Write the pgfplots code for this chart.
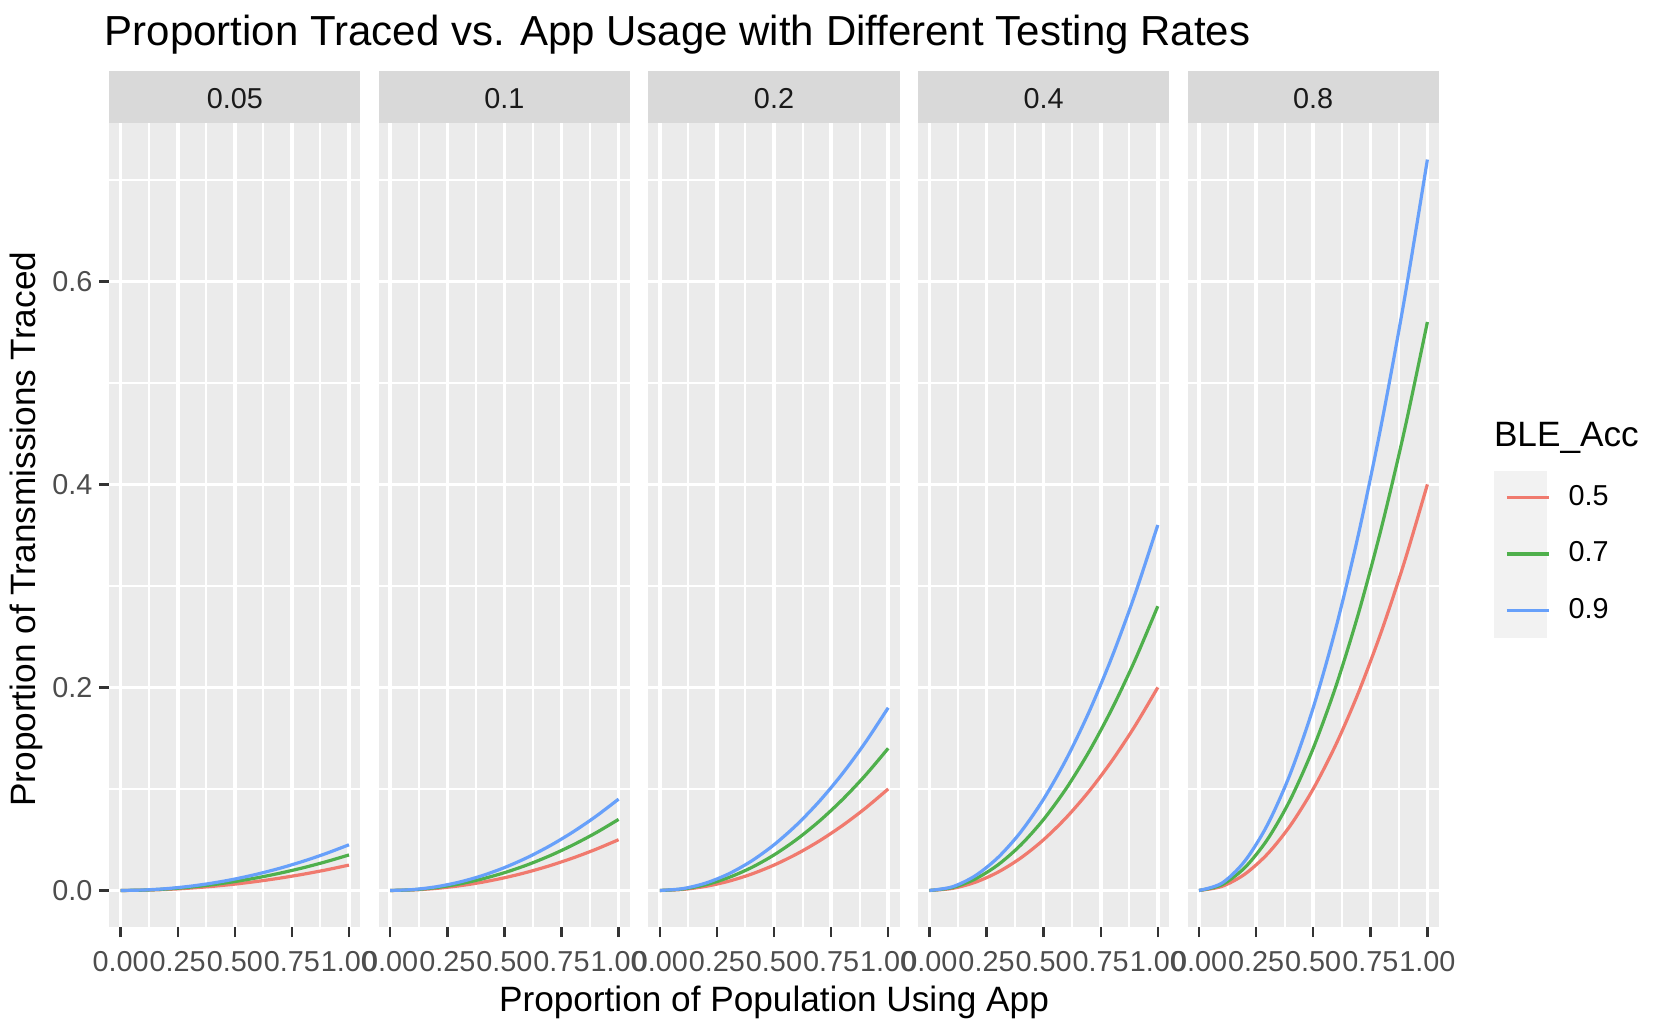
\documentclass[border=0pt]{standalone}
\usepackage{pgfplots}
\pgfplotsset{compat=1.18}
\usepackage{pgfplotstable}
\usepackage{fontspec}
\setmainfont{Liberation Sans}
\definecolor{panelbg}{HTML}{EBEBEB}
\definecolor{stripc}{HTML}{D9D9D9}
\definecolor{tickc}{HTML}{333333}
\definecolor{labc}{HTML}{4D4D4D}
\definecolor{striptext}{HTML}{1A1A1A}
\definecolor{keybg}{HTML}{F2F2F2}
\definecolor{cred}{HTML}{F07A6E}
\definecolor{cgreen}{HTML}{4FB04C}
\definecolor{cblue}{HTML}{67A0FA}

% columns: x, then for testing rate t and BLE accuracy 0.5/0.7/0.9
\pgfplotstableread{
x    a1      a2      a3      b1     b2     b3     c1     c2     c3     d1     d2     d3     e1     e2     e3
0.0  0       0       0       0      0      0      0      0      0      0      0      0      0      0      0
0.1  0.00025 0.00035 0.00045 0.0005 0.0007 0.0009 0.001  0.0014 0.0018 0.002  0.0028 0.0036 0.004  0.0056 0.0072
0.2  0.001   0.0014  0.0018  0.002  0.0028 0.0036 0.004  0.0056 0.0072 0.008  0.0112 0.0144 0.016  0.0224 0.0288
0.3  0.00225 0.00315 0.00405 0.0045 0.0063 0.0081 0.009  0.0126 0.0162 0.018  0.0252 0.0324 0.036  0.0504 0.0648
0.4  0.004   0.0056  0.0072  0.008  0.0112 0.0144 0.016  0.0224 0.0288 0.032  0.0448 0.0576 0.064  0.0896 0.1152
0.5  0.00625 0.00875 0.01125 0.0125 0.0175 0.0225 0.025  0.035  0.045  0.05   0.07   0.09   0.1    0.14   0.18
0.6  0.009   0.0126  0.0162  0.018  0.0252 0.0324 0.036  0.0504 0.0648 0.072  0.1008 0.1296 0.144  0.2016 0.2592
0.7  0.01225 0.01715 0.02205 0.0245 0.0343 0.0441 0.049  0.0686 0.0882 0.098  0.1372 0.1764 0.196  0.2744 0.3528
0.8  0.016   0.0224  0.0288  0.032  0.0448 0.0576 0.064  0.0896 0.1152 0.128  0.1792 0.2304 0.256  0.3584 0.4608
0.9  0.02025 0.02835 0.03645 0.0405 0.0567 0.0729 0.081  0.1134 0.1458 0.162  0.2268 0.2916 0.324  0.4536 0.5832
1.0  0.025   0.035   0.045   0.05   0.07   0.09   0.1    0.14   0.18   0.2    0.28   0.36   0.4    0.56   0.72
}\datatable

\pgfplotsset{
  facet/.style={
    scale only axis, width=62.8pt, height=201pt, anchor=south west,
    xmin=-0.05, xmax=1.05, ymin=-0.036, ymax=0.756,
    axis background/.style={fill=panelbg},
    axis line style={draw=none},
    xtick={0,0.25,0.5,0.75,1}, minor xtick={0.125,0.375,0.625,0.875},
    xticklabels={0.00,0.25,0.50,0.75,1.00},
    ytick={0,0.2,0.4,0.6}, minor ytick={0.1,0.3,0.5,0.7},
    grid=both,
    major grid style={white, line width=0.9pt},
    minor grid style={white, line width=0.5pt},
    tick align=outside, major tick length=2.5pt, minor tick length=0pt,
    xtick pos=lower, ytick pos=left,
    tick style={color=tickc, line width=0.6pt},
    xticklabel style={font=\fontsize{7.2}{8}\selectfont, text=labc, anchor=north, inner sep=0pt, yshift=-3.5pt},
    yticklabel style={font=\fontsize{7.2}{8}\selectfont, text=labc, anchor=east, inner sep=0pt, xshift=-1.5pt},
    every axis plot/.append style={line width=0.8pt, no markers, smooth},
  },
  inner/.style={yticklabels={}, ytick style={draw=none}},
}

\begin{document}
\begin{tikzpicture}
\path[use as bounding box] (0,0) rectangle (415.5pt,258pt);

\begin{axis}[facet, name=p1, at={(27.3pt,26.25pt)}, yticklabels={0.0,0.2,0.4,0.6}]
\addplot[cred] table[x=x,y=a1]{\datatable};
\addplot[cgreen] table[x=x,y=a2]{\datatable};
\addplot[cblue] table[x=x,y=a3]{\datatable};
\end{axis}

\begin{axis}[facet, inner, name=p2, at={(94.7pt,26.25pt)}]
\addplot[cred] table[x=x,y=b1]{\datatable};
\addplot[cgreen] table[x=x,y=b2]{\datatable};
\addplot[cblue] table[x=x,y=b3]{\datatable};
\end{axis}

\begin{axis}[facet, inner, name=p3, at={(162.1pt,26.25pt)}]
\addplot[cred] table[x=x,y=c1]{\datatable};
\addplot[cgreen] table[x=x,y=c2]{\datatable};
\addplot[cblue] table[x=x,y=c3]{\datatable};
\end{axis}

\begin{axis}[facet, inner, name=p4, at={(229.5pt,26.25pt)}]
\addplot[cred] table[x=x,y=d1]{\datatable};
\addplot[cgreen] table[x=x,y=d2]{\datatable};
\addplot[cblue] table[x=x,y=d3]{\datatable};
\end{axis}

\fill[keybg] (373.5pt,98.5pt) rectangle (386.8pt,140.2pt);

\begin{axis}[facet, inner, name=p5, at={(296.9pt,26.25pt)},
  legend style={at={(1.214,0.464)}, anchor=west, draw=none, fill=none,
    font=\fontsize{7.2}{8}\selectfont, row sep=6.1pt,
    nodes={text height=6pt, text depth=2pt, inner sep=0pt},
    legend cell align=left},
  legend image code/.code={\draw[#1, line width=0.8pt] (0.3pt,0pt) -- (10.8pt,0pt);},
  ]
\addplot[cred] table[x=x,y=e1]{\datatable};
\addlegendentry{\hspace{4.5pt}0.5}
\addplot[cgreen] table[x=x,y=e2]{\datatable};
\addlegendentry{\hspace{4.5pt}0.7}
\addplot[cblue] table[x=x,y=e3]{\datatable};
\addlegendentry{\hspace{4.5pt}0.9}
\end{axis}

\foreach \p/\t in {p1/0.05,p2/0.1,p3/0.2,p4/0.4,p5/0.8}{
  \fill[stripc] (\p.north west) rectangle ([yshift=13pt]\p.north east);
  \node[font=\fontsize{7.2}{8}\selectfont, text=striptext] at ([yshift=6.2pt]\p.north) {\t};
}

\node[anchor=west, font=\fontsize{10.5}{12}\selectfont, inner sep=0pt] at (26pt,249.4pt) {Proportion Traced vs. App Usage with Different Testing Rates};
\node[font=\fontsize{8.8}{10}\selectfont, rotate=90, inner sep=0pt] at (6.6pt,125.7pt) {Proportion of Transmissions Traced};
\node[font=\fontsize{8.8}{10}\selectfont, inner sep=0pt] at (193.5pt,7.4pt) {Proportion of Population Using App};
\node[anchor=west, font=\fontsize{8.8}{10}\selectfont, inner sep=0pt] at (373.3pt,148.5pt) {BLE\_Acc};
\end{tikzpicture}
\end{document}
